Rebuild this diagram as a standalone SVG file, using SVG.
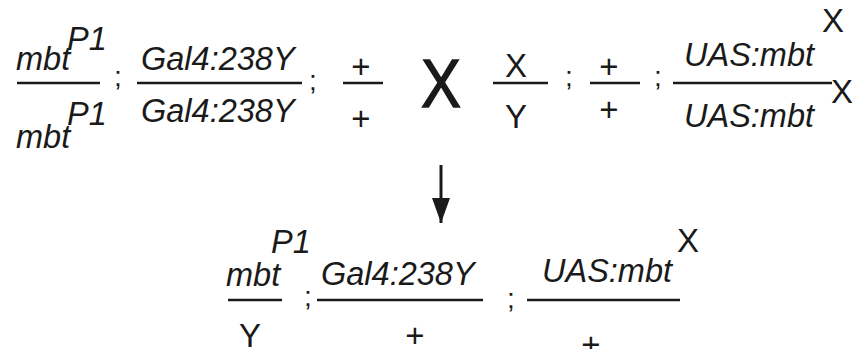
<svg xmlns="http://www.w3.org/2000/svg" width="861" height="349" viewBox="0 0 861 349">
<defs>
<style>
.it{font-family:"Liberation Sans",Arial,sans-serif;font-style:italic;font-size:32.5px;fill:#1a1a1a}
.rm{font-family:"Liberation Sans",Arial,sans-serif;font-size:33px;fill:#1a1a1a}
.sc{font-family:"Liberation Sans",Arial,sans-serif;font-size:28px;fill:#1a1a1a}
.bar{stroke:#1a1a1a;stroke-width:2.6;fill:none}
</style>
<marker id="ah" viewBox="0 0 25 18" refX="25" refY="9" markerWidth="25" markerHeight="18" markerUnits="userSpaceOnUse" orient="auto">
<path d="M0,0 L25,9 L0,18 Z" fill="#1a1a1a"/>
</marker>
</defs>
<rect width="861" height="349" fill="#ffffff"/>

<g id="parent1">
<g id="p1-mbt">
<text class="it" x="16" y="70">mbt</text>
<text class="it" x="67" y="50">P1</text>
<line class="bar" x1="17" y1="83" x2="100" y2="83"/>
<text class="it" x="16" y="148">mbt</text>
<text class="it" x="67" y="125">P1</text>
</g>
<text class="sc" x="114" y="86">;</text>
<g id="p1-gal4">
<text class="it" x="141" y="70">Gal4:238Y</text>
<line class="bar" x1="137" y1="83" x2="302" y2="83"/>
<text class="it" x="141" y="122">Gal4:238Y</text>
</g>
<text class="sc" x="309" y="90">;</text>
<g id="p1-third">
<text class="rm" x="361" y="78" text-anchor="middle">+</text>
<line class="bar" x1="343" y1="83" x2="383" y2="83"/>
<text class="rm" x="361" y="130" text-anchor="middle">+</text>
</g>
</g>

<g id="cross">
<text x="441" y="107" text-anchor="middle" transform="translate(441 0) scale(0.88 1) translate(-441 0)" style="font-family:'Liberation Sans',Arial,sans-serif;font-size:68px;fill:#1a1a1a;stroke:#1a1a1a;stroke-width:1.4">X</text>
</g>

<g id="parent2">
<g id="p2-sex">
<text class="rm" x="516" y="77" text-anchor="middle">X</text>
<line class="bar" x1="493" y1="83" x2="548" y2="83"/>
<text class="rm" x="516" y="128" text-anchor="middle">Y</text>
</g>
<text class="sc" x="565" y="86">;</text>
<g id="p2-second">
<text class="rm" x="609" y="78" text-anchor="middle">+</text>
<line class="bar" x1="590" y1="83" x2="640" y2="83"/>
<text class="rm" x="609" y="121" text-anchor="middle">+</text>
</g>
<text class="sc" x="654" y="86">;</text>
<g id="p2-uas">
<text class="it" x="684" y="66">UAS:mbt</text>
<text class="rm" x="822" y="32">X</text>
<line class="bar" x1="673" y1="83" x2="832" y2="83"/>
<text class="rm" x="831" y="103">X</text>
<text class="it" x="684" y="127">UAS:mbt</text>
</g>
</g>

<g id="connectors">
<line x1="441" y1="165" x2="441" y2="223" stroke="#1a1a1a" stroke-width="3" marker-end="url(#ah)"/>
</g>

<g id="offspring">
<g id="o-mbt">
<text class="it" x="226" y="286">mbt</text>
<text class="it" x="271" y="253">P1</text>
<line class="bar" x1="228" y1="300" x2="282" y2="300"/>
<text class="rm" x="250" y="347" text-anchor="middle">Y</text>
</g>
<text class="sc" x="304" y="306">;</text>
<g id="o-gal4">
<text class="it" x="321" y="285">Gal4:238Y</text>
<line class="bar" x1="317" y1="300" x2="483" y2="300"/>
<text class="rm" x="415" y="347" text-anchor="middle">+</text>
</g>
<text class="sc" x="507" y="308">;</text>
<g id="o-uas">
<text class="it" x="542" y="282">UAS:mbt</text>
<text class="rm" x="677" y="252">X</text>
<line class="bar" x1="527" y1="300" x2="680" y2="300"/>
<text class="rm" x="591" y="356" text-anchor="middle">+</text>
</g>
</g>
</svg>
